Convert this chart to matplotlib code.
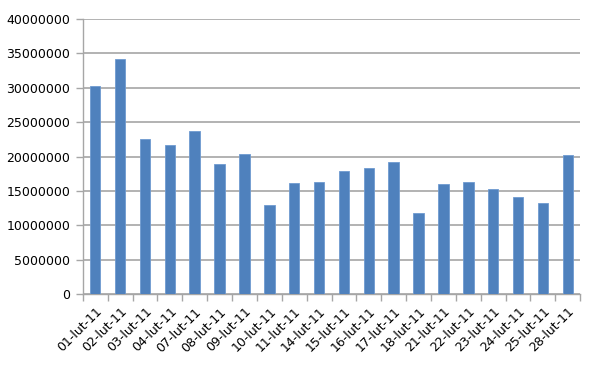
import numpy as np
import matplotlib
matplotlib.use('Agg')
import matplotlib.pyplot as plt
import matplotlib.ticker as ticker

# dates (Polish month abbreviation "lut" = February)
days = ['01-lut-11', '02-lut-11', '03-lut-11', '04-lut-11', '07-lut-11',
        '08-lut-11', '09-lut-11', '10-lut-11', '11-lut-11', '14-lut-11',
        '15-lut-11', '16-lut-11', '17-lut-11', '18-lut-11', '21-lut-11',
        '22-lut-11', '23-lut-11', '24-lut-11', '25-lut-11', '28-lut-11']
values = [30200000, 34200000, 22600000, 21700000, 23700000,
          18900000, 20400000, 12900000, 16200000, 16300000,
          17900000, 18400000, 19200000, 11800000, 16000000,
          16300000, 15300000, 14100000, 13300000, 20300000]

grid_grey = '#a6a6a6'

fig = plt.figure(figsize=(6, 3.68), dpi=100)
ax = fig.add_axes([0.138, 0.201, 0.829, 0.747])

x = np.arange(len(days))
ax.bar(x, values, width=0.42, color='#4f81bd', edgecolor='#6f9bd1',
       linewidth=0.6, zorder=3)

ax.set_xlim(-0.5, len(days) - 0.5)
ax.set_ylim(0, 40000000)
ax.yaxis.set_major_locator(ticker.MultipleLocator(5000000))
ax.yaxis.set_major_formatter(ticker.FuncFormatter(lambda v, p: f"{int(v)}"))

ax.grid(axis='y', color=grid_grey, linewidth=1.2, zorder=0)
ax.set_axisbelow(True)

for s in ['top', 'right']:
    ax.spines[s].set_visible(False)
for s in ['left', 'bottom']:
    ax.spines[s].set_color(grid_grey)
    ax.spines[s].set_linewidth(1.0)

# category labels at centres, tick marks at boundaries
ax.set_xticks(x)
ax.set_xticklabels(days, rotation=45, ha='right', rotation_mode='anchor')
ax.set_xticks(np.arange(-0.5, len(days)), minor=True)
ax.tick_params(axis='x', which='major', length=0, pad=8, labelsize=9)
ax.tick_params(axis='x', which='minor', length=5, color=grid_grey, width=1)
ax.tick_params(axis='y', length=5, color=grid_grey, width=1, labelsize=9, pad=4)

fig.savefig('out.png', dpi=100)
